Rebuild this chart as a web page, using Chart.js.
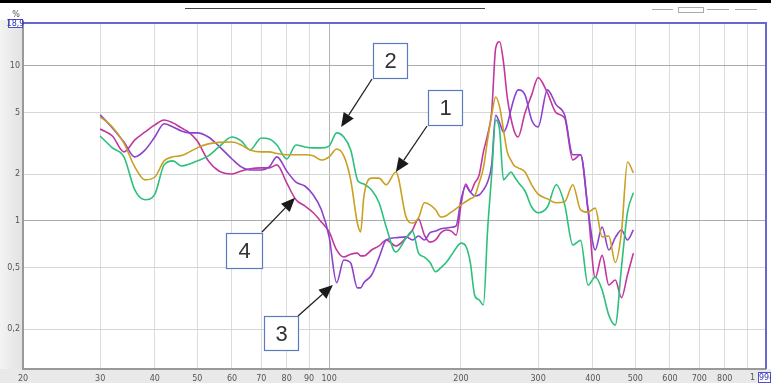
<!DOCTYPE html>
<html>
<head>
<meta charset="utf-8">
<script src="https://cdn.jsdelivr.net/npm/chart.js@4"></script>
<style>
  html, body { margin: 0; padding: 0; background: #fff; }
  canvas { display: block; }
</style>
</head>
<body>
<canvas id="myChart" width="771" height="383"></canvas>
<script>
// frequency grid (Hz)
var freqs = [30, 32, 34, 36, 38, 40, 42, 44, 46, 48, 50, 53, 56, 60, 63, 66, 70, 73, 76, 80,
  84, 88, 92, 96, 100, 104, 108, 112, 116, 118, 120, 125, 130, 135, 142, 150, 155, 160, 165, 170,
  175, 180, 185, 190, 195, 200, 205, 210, 215, 220, 225, 230, 235, 240, 245, 250, 255, 260, 265, 270,
  280, 290, 300, 315, 330, 345, 360, 375, 390, 405, 420, 435, 450, 465, 480, 495];

// distortion in %, one list per curve
var curve1 = [4.69, 4.04, 3.18, 2.23, 1.84, 1.92, 2.44, 2.59, 2.64, 2.79, 2.96, 3.14, 3.21, 3.23, 3.09, 2.87, 2.79, 2.79, 2.72, 2.67,
  2.67, 2.67, 2.63, 2.47, 2.59, 2.91, 2.63, 1.84, 0.97, 0.85, 1.43, 1.89, 1.89, 1.71, 2.07, 1.05, 0.97, 1.05, 1.31, 1.27,
  1.18, 1.06, 1.08, 1.14, 1.20, 1.27, 1.33, 1.39, 1.45, 1.76, 2.2, 3.33, 4.83, 6.3, 5.44, 3.87, 2.79, 2.47, 2.26, 2.20,
  2.07, 1.71, 1.49, 1.39, 1.31, 1.33, 1.71, 1.18, 1.14, 1.21, 0.79, 0.80, 0.54, 0.85, 2.40, 2.04];
var curve2 = [3.53, 2.96, 2.59, 1.585, 1.37, 1.49, 2.30, 2.44, 2.26, 2.33, 2.44, 2.63, 3.0, 3.48, 3.28, 2.87, 3.43, 3.38, 3.09, 2.51,
  3.09, 3.0, 2.96, 2.96, 3.04, 3.70, 3.48, 2.87, 1.84, 1.76, 1.73, 1.585, 1.31, 0.915, 0.63, 0.78, 0.86, 0.62, 0.585, 0.54,
  0.47, 0.50, 0.54, 0.60, 0.67, 0.72, 0.69, 0.54, 0.33, 0.31, 0.287, 0.87, 1.98, 4.48, 3.87, 1.84, 1.95, 2.07, 1.92, 1.78,
  1.56, 1.23, 1.13, 1.23, 1.71, 1.27, 0.70, 0.75, 0.386, 0.435, 0.359, 0.247, 0.213, 0.505, 1.14, 1.52];
var curve3 = [4.83, 3.98, 3.23, 2.59, 2.87, 3.48, 4.23, 4.04, 3.80, 3.70, 3.70, 3.48, 3.04, 2.51, 2.23, 2.13, 2.13, 2.23, 2.59, 2.10,
  1.78, 1.68, 1.47, 1.18, 0.79, 0.40, 0.56, 0.535, 0.37, 0.37, 0.40, 0.448, 0.58, 0.754, 0.78, 0.79, 0.754, 0.80, 0.754, 0.84,
  0.86, 0.89, 0.90, 0.91, 0.93, 1.37, 1.68, 1.54, 1.45, 1.47, 1.585, 1.78, 2.3, 4.8, 4.3, 3.75, 4.16, 5.2, 6.3, 7.0,
  6.5, 4.48, 4.04, 7.0, 5.6, 4.8, 2.67, 2.67, 1.18, 0.65, 0.915, 0.65, 0.78, 0.875, 0.754, 0.875];
var curve4 = [3.92, 3.53, 2.79, 3.33, 3.75, 4.16, 4.48, 4.29, 3.98, 3.70, 3.28, 2.44, 2.10, 2.01, 2.10, 2.17, 2.20, 2.20, 2.30, 1.76,
  1.37, 1.25, 1.13, 0.985, 0.85, 0.65, 0.585, 0.61, 0.62, 0.595, 0.595, 0.65, 0.69, 0.754, 0.69, 0.78, 0.875, 1.03, 0.81, 0.73,
  0.754, 0.84, 0.875, 0.86, 0.81, 1.27, 1.73, 1.54, 1.76, 1.98, 2.79, 3.59, 5.05, 13.0, 14.3, 10.6, 6.3, 4.6, 3.75, 3.48,
  4.97, 6.5, 8.4, 6.7, 4.97, 4.6, 2.47, 2.67, 1.18, 0.43, 0.60, 0.386, 0.416, 0.32, 0.45, 0.62];

var xTicks = [20, 30, 40, 50, 60, 70, 80, 90, 100, 200, 300, 400, 500, 600, 700, 800, 900];
var yTicks = [0.2, 0.5, 1, 2, 5, 10];

// numbered call-outs: box (pixels) and arrow target (Hz, %)
var notes = [
  { label: '2', box: [373, 43, 34, 35], from: [372, 79], to: [106.5, 4.04] },
  { label: '1', box: [428, 90, 34, 35], from: [427, 126], to: [142, 2.07] },
  { label: '4', box: [226, 233, 36, 35], from: [262, 232], to: [83.6, 1.41] },
  { label: '3', box: [264, 316, 34, 34], from: [298, 316], to: [102, 0.386] }
];

function pts(vals) {
  return vals.map(function (v, i) { return { x: freqs[i], y: v }; });
}

function arrow(c, x1, y1, x2, y2) {
  var a = Math.atan2(y2 - y1, x2 - x1);
  var L = 14, W = 6;
  var bx = x2 - L * Math.cos(a), by = y2 - L * Math.sin(a);
  c.strokeStyle = '#222';
  c.lineWidth = 1.3;
  c.beginPath();
  c.moveTo(x1, y1);
  c.lineTo(bx, by);
  c.stroke();
  c.fillStyle = '#1a1a1a';
  c.beginPath();
  c.moveTo(x2, y2);
  c.lineTo(bx + W * Math.sin(a), by - W * Math.cos(a));
  c.lineTo(bx - W * Math.sin(a), by + W * Math.cos(a));
  c.closePath();
  c.fill();
}

var frame = {
  id: 'frame',
  beforeDraw: function (chart) {
    var c = chart.ctx, a = chart.chartArea;
    c.save();
    c.fillStyle = '#fff';
    c.fillRect(0, 0, chart.width, chart.height);
    var g = c.createLinearGradient(0, 0, a.left, 0);
    g.addColorStop(0, '#f3f3f3');
    g.addColorStop(1, '#e2e2e2');
    c.fillStyle = g;
    c.fillRect(0, a.top - 3, a.left, chart.height - a.top + 3);
    c.fillStyle = '#e9e9e9';
    c.fillRect(0, a.bottom, chart.width, chart.height - a.bottom);
    c.restore();
  },
  afterDraw: function (chart) {
    var c = chart.ctx, a = chart.chartArea;
    var xs = chart.scales.x, ys = chart.scales.y;
    c.save();
    // plot border
    c.strokeStyle = '#999';
    c.lineWidth = 2;
    c.beginPath();
    c.moveTo(a.left, a.top);
    c.lineTo(a.left, a.bottom);
    c.lineTo(a.right, a.bottom);
    c.stroke();
    c.strokeStyle = '#6767d2';
    c.lineWidth = 2;
    c.beginPath();
    c.moveTo(a.left, a.top);
    c.lineTo(a.right, a.top);
    c.lineTo(a.right, a.bottom);
    c.stroke();

    // top strip and header bits
    c.fillStyle = '#000';
    c.fillRect(0, 0, chart.width, 3);
    c.strokeStyle = '#444';
    c.lineWidth = 1;
    c.beginPath();
    c.moveTo(185, 8.5);
    c.lineTo(485, 8.5);
    c.stroke();
    c.strokeStyle = '#aaa';
    [[652, 673], [707, 729], [735, 757]].forEach(function (p) {
      c.beginPath();
      c.moveTo(p[0], 9.5);
      c.lineTo(p[1], 9.5);
      c.stroke();
    });
    c.strokeRect(678.5, 7.5, 25, 5);

    // axis extras
    c.font = '8px "DejaVu Sans", sans-serif';
    c.fillStyle = '#555';
    c.textAlign = 'center';
    c.textBaseline = 'middle';
    c.fillText('%', 16, 15);
    c.fillStyle = '#fff';
    c.fillRect(8, 19, 15, 9);
    c.strokeStyle = '#5050c8';
    c.strokeRect(8.5, 19.5, 14, 8);
    c.fillStyle = '#3434b0';
    c.fillText('18,9', 15.5, 24);
    c.fillStyle = '#555';
    c.textAlign = 'left';
    c.fillText('1 000', 750, 378);
    c.fillStyle = '#fff';
    c.fillRect(758, 372, 13, 11);
    c.strokeStyle = '#5050c8';
    c.strokeRect(758.5, 372.5, 12, 10);
    c.fillStyle = '#3434b0';
    c.fillText('994', 759, 378);

    // call-outs
    notes.forEach(function (n) {
      arrow(c, n.from[0], n.from[1], xs.getPixelForValue(n.to[0]), ys.getPixelForValue(n.to[1]));
    });
    notes.forEach(function (n) {
      var b = n.box;
      c.fillStyle = '#fff';
      c.fillRect(b[0], b[1], b[2], b[3]);
      c.strokeStyle = '#5b7bbf';
      c.lineWidth = 1.2;
      c.strokeRect(b[0] + 0.5, b[1] + 0.5, b[2], b[3]);
      c.fillStyle = '#333';
      c.font = '22px "Liberation Sans", Arial, sans-serif';
      c.textAlign = 'center';
      c.textBaseline = 'middle';
      c.fillText(n.label, b[0] + b[2] / 2 + 0.5, b[1] + b[3] / 2 + 1.5);
    });
    c.restore();
  }
};

function lineSet(data, color) {
  return {
    data: pts(data),
    borderColor: color,
    borderWidth: 1.6,
    pointRadius: 0,
    fill: false,
    cubicInterpolationMode: 'monotone'
  };
}

var ctx = document.getElementById('myChart').getContext('2d');
var chart = new Chart(ctx, {
  type: 'line',
  data: {
    datasets: [
      lineSet(curve1, '#c9a022'),
      lineSet(curve2, '#2cc07c'),
      lineSet(curve3, '#8c42cc'),
      lineSet(curve4, '#c2369f')
    ]
  },
  options: {
    responsive: false,
    animation: false,
    layout: { padding: { top: 23, right: 5, left: 0, bottom: 0 } },
    plugins: { legend: { display: false }, tooltip: { enabled: false } },
    scales: {
      x: {
        type: 'logarithmic',
        min: 20,
        max: 994,
        afterBuildTicks: function (s) { s.ticks = xTicks.map(function (v) { return { value: v }; }); },
        afterFit: function (s) { s.height = 14; },
        border: { display: false },
        grid: {
          drawTicks: false,
          color: function (c) { return c.tick && c.tick.value === 100 ? '#b4b4b4' : '#dcdcdc'; }
        },
        ticks: {
          autoSkip: false,
          maxRotation: 0,
          padding: 5,
          color: '#555',
          font: { size: 8, family: '"DejaVu Sans", sans-serif' },
          callback: function (v) { return v === 900 ? '' : String(v); }
        }
      },
      y: {
        type: 'logarithmic',
        min: 0.111,
        max: 18.9,
        afterBuildTicks: function (s) { s.ticks = yTicks.map(function (v) { return { value: v }; }); },
        afterFit: function (s) { s.width = 23; },
        border: { display: false },
        grid: {
          drawTicks: false,
          color: function (c) { return c.tick && (c.tick.value === 1 || c.tick.value === 10) ? '#ababab' : '#d6d6d6'; }
        },
        ticks: {
          padding: 3,
          color: '#555',
          font: { size: 8, family: '"DejaVu Sans", sans-serif' },
          callback: function (v) { return String(v).replace('.', ','); }
        }
      }
    }
  },
  plugins: [frame]
});
</script>
</body>
</html>
